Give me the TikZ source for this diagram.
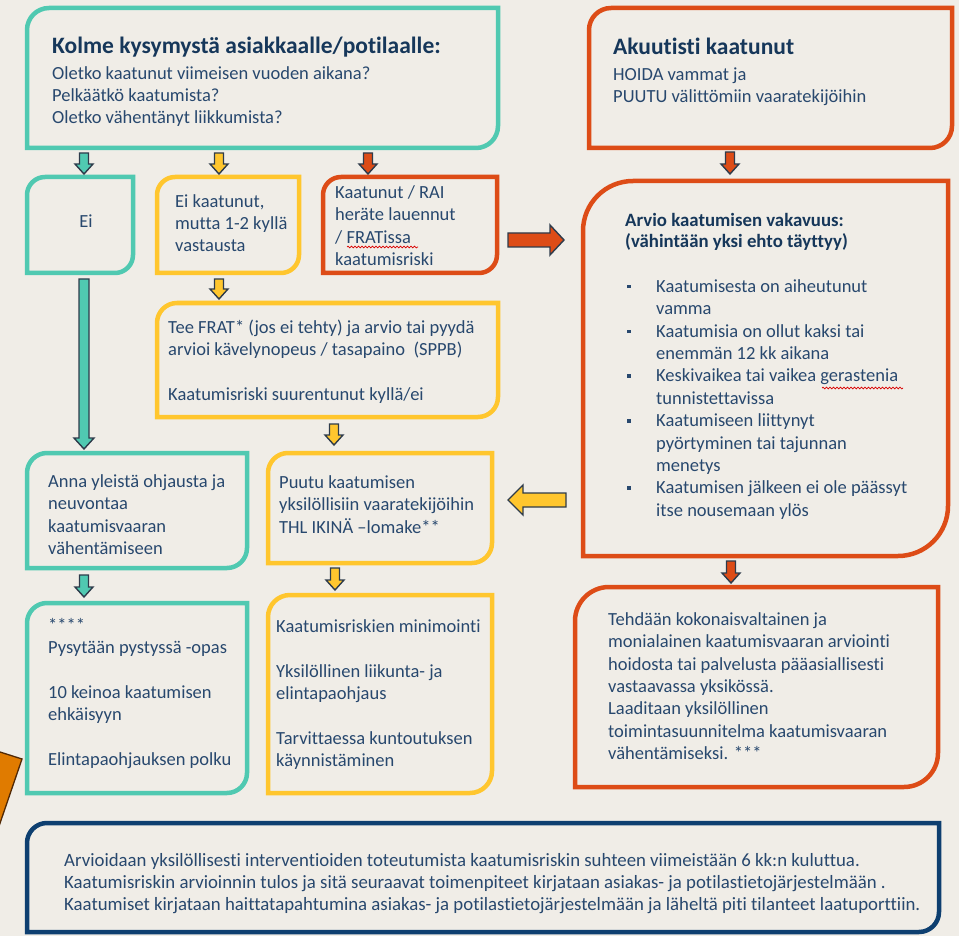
\documentclass[tikz,border=0pt]{standalone}
\usepackage{fontspec}
\setmainfont{Carlito}[Ligatures=NoCommon]
\usetikzlibrary{calc,decorations.pathmorphing}
\definecolor{bgc}{RGB}{240,237,231}
\definecolor{tealc}{RGB}{80,201,177}
\definecolor{yellc}{RGB}{255,198,46}
\definecolor{redc}{RGB}{221,76,23}
\definecolor{navyc}{RGB}{14,63,112}
\definecolor{bodyc}{RGB}{40,72,110}
\definecolor{titlec}{RGB}{22,55,90}
\definecolor{edgec}{RGB}{46,59,75}
\definecolor{orangec}{RGB}{224,123,0}
\definecolor{brownc}{RGB}{80,40,5}
\newcommand\rbox[7]{%
  \node[boxnode, minimum width={(#4-#2)*1pt}, minimum height={(#5-#3)*1pt}] (#1) at ({(#2+#4)/2},{-(#3+#5)/2}) {};
  \draw[boxline, draw=#7] (#1.south west) -- ([yshift=-#6pt]#1.north west) arc[start angle=180, end angle=90, radius=#6pt] -- (#1.north east) -- ([yshift=#6pt]#1.south east) arc[start angle=0, end angle=-90, radius=#6pt] -- cycle;}
\tikzset{
  boxnode/.style={inner sep=0pt, outer sep=0pt, draw=none},
  boxline/.style={line width=4.5pt},
  body/.style={anchor=north west, yshift=15.68pt, align=left, inner sep=0pt, text=bodyc, font=\fontsize{18.5}{22.4}\selectfont},
  bodysm/.style={anchor=north west, yshift=15.4pt, align=left, inner sep=0pt, text=bodyc, font=\fontsize{18.8}{22}\selectfont},
  ttl/.style={anchor=base west, inner sep=0pt, text=titlec, font=\bfseries\fontsize{23.5}{27}\selectfont},
  subttl/.style={anchor=north west, yshift=14.7pt, align=left, inner sep=0pt, text=titlec, font=\bfseries\fontsize{18.8}{21}\selectfont},
  arrowedge/.style={draw=edgec, line width=1.4pt, line join=miter},
  barrow/.style n args={3}{to path={let \p1=(\tikztostart), \p2=(\tikztotarget), \n1={atan2(\y2-\y1,\x2-\x1)}, \n2={veclen(\x2-\x1,\y2-\y1)} in ($(\p1)+(\n1+90:#1)$) -- ($(\p1)+(\n1:\n2-#3)+(\n1+90:#1)$) -- ($(\p1)+(\n1:\n2-#3)+(\n1+90:#2)$) -- (\p2) -- ($(\p1)+(\n1:\n2-#3)+(\n1-90:#2)$) -- ($(\p1)+(\n1:\n2-#3)+(\n1-90:#1)$) -- ($(\p1)+(\n1-90:#1)$) -- cycle}},
  squig/.style={draw=red!85!black, line width=0.7pt, decorate, decoration={snake, amplitude=0.9pt, segment length=3.5pt}},
}
\begin{document}
\begin{tikzpicture}[x=1pt,y=1pt]
\fill[bgc] (0,0) rectangle (959,-936);
\useasboundingbox (0,0) rectangle (959,-936);

% orange sliver at left edge
\filldraw[fill=orangec, draw=brownc, line width=1.3pt] (-10,-748.8) -- (22,-759) -- (-3,-832) -- cycle;

% boxes
\rbox{q}{27}{8}{498}{148}{22}{tealc}
\rbox{ak}{589}{8}{952}{148}{22}{redc}
\rbox{ei}{27}{177}{133}{273}{18}{tealc}
\rbox{ye}{157}{177}{299}{273}{18}{yellc}
\rbox{rd}{323}{177}{497}{273}{18}{redc}
\rbox{frat}{157}{303}{498}{417}{20}{yellc}
\rbox{anna}{27}{453}{247}{568}{20}{tealc}
\rbox{puutu}{268}{453}{492}{563}{20}{yellc}
\rbox{arvio}{583}{181}{948}{556}{50}{redc}
\rbox{star}{27}{603}{247}{793}{20}{tealc}
\rbox{kaat}{268}{595}{492}{793}{22}{yellc}
\rbox{tehd}{575}{587}{938}{787}{34}{redc}
\rbox{bot}{27}{823}{939}{932}{20}{navyc}

% texts
\node[ttl] (qt) at (52,-54) {Kolme kysymystä asiakkaalle/potilaalle:};
\node[body] (qb) at (52,-79) {\strut Oletko kaatunut viimeisen vuoden aikana?\\Pelkäätkö kaatumista?\\Oletko vähentänyt liikkumista?};
\node[ttl] (akt) at (613,-55) {Akuutisti kaatunut};
\node[body] (akb) at (613,-80) {\strut HOIDA vammat ja\\PUUTU välittömiin vaaratekijöihin};
\node[anchor=base, inner sep=0pt, text=bodyc, font=\fontsize{18.5}{22.4}\selectfont] (eit) at (86,-228) {Ei};
\node[body] (yet) at (175,-207) {\strut Ei kaatunut,\\mutta 1-2 kyllä\\vastausta};
\node[body] (rdt) at (335,-198) {\strut Kaatunut / RAI\\heräte lauennut\\/ FRATissa\\kaatumisriski};
\node[body] (fratt) at (168,-333) {\strut Tee FRAT* (jos ei tehty) ja arvio tai pyydä\\arvioi kävelynopeus / tasapaino\ \ (SPPB)\\[22.4pt]Kaatumisriski suurentunut kyllä/ei};
\node[body] (annat) at (48,-487) {\strut Anna yleistä ohjausta ja\\neuvontaa\\kaatumisvaaran\\vähentämiseen};
\node[body] (puutut) at (279,-488) {\strut Puutu kaatumisen\\yksilöllisiin vaaratekijöihin\\THL IKINÄ –lomake**};
\node[subttl] (arviot) at (625,-226) {\strut Arvio kaatumisen vakavuus:\\(vähintään yksi ehto täyttyy)};
\newcommand\bul{\makebox[29pt][l]{\rule[4pt]{3.5pt}{3.5pt}}}
\newcommand\nobul{\hspace*{29pt}}
\node[body] (arviob) at (627,-292) {\strut\bul Kaatumisesta on aiheutunut\\\nobul vamma\\\bul Kaatumisia on ollut kaksi tai\\\nobul enemmän 12 kk aikana\\\bul Keskivaikea tai vaikea gerastenia\\\nobul tunnistettavissa\\\bul Kaatumiseen liittynyt\\\nobul pyörtyminen tai tajunnan\\\nobul menetys\\\bul Kaatumisen jälkeen ei ole päässyt\\\nobul itse nousemaan ylös};
\node[body] (start) at (48,-631) {\strut ****\\Pysytään pystyssä -opas\\[22.4pt]10 keinoa kaatumisen\\ehkäisyyn\\[22.4pt]Elintapaohjauksen polku};
\node[body] (kaatt) at (276,-632) {\strut Kaatumisriskien minimointi\\[22.4pt]Yksilöllinen liikunta- ja\\elintapaohjaus\\[22.4pt]Tarvittaessa kuntoutuksen\\käynnistäminen};
\node[body] (tehdt) at (608,-625) {\strut Tehdään kokonaisvaltainen ja\\monialainen kaatumisvaaran arviointi\\hoidosta tai palvelusta pääasiallisesti\\vastaavassa yksikössä.\\Laaditaan yksilöllinen\\toimintasuunnitelma kaatumisvaaran\\vähentämiseksi. ***};
\node[bodysm] (bott) at (64,-866) {\strut Arvioidaan yksilöllisesti interventioiden toteutumista kaatumisriskin suhteen viimeistään 6 kk:n kuluttua.\\Kaatumisriskin arvioinnin tulos ja sitä seuraavat toimenpiteet kirjataan asiakas- ja potilastietojärjestelmään .\\Kaatumiset kirjataan haittatapahtumina asiakas- ja potilastietojärjestelmään ja läheltä piti tilanteet laatuporttiin.};

% spell-check squiggles
\draw[squig] (347,-247) -- (418,-247);
\draw[squig] (822,-388) -- (903,-388);

% arrow end points
\coordinate (a1s) at (84,-153);  \coordinate (a1e) at (84,-174);
\coordinate (a2s) at (219,-153); \coordinate (a2e) at (219,-174);
\coordinate (a3s) at (368,-153); \coordinate (a3e) at (368,-174);
\coordinate (a4s) at (730,-152); \coordinate (a4e) at (730,-174);
\coordinate (a5s) at (84,-279);  \coordinate (a5e) at (84,-449);
\coordinate (a6s) at (219,-279); \coordinate (a6e) at (219,-299);
\coordinate (a7s) at (334,-424); \coordinate (a7e) at (334,-445);
\coordinate (a8s) at (84,-575);  \coordinate (a8e) at (84,-597);
\coordinate (a9s) at (335,-568); \coordinate (a9e) at (335,-590);
\coordinate (a10s) at (731,-561); \coordinate (a10e) at (731,-583);
\coordinate (a11s) at (508,-240); \coordinate (a11e) at (564,-240);
\coordinate (a12s) at (566,-500); \coordinate (a12e) at (508,-500);

\draw[arrowedge, fill=tealc] (a1s) to[barrow={4.5}{9}{10}] (a1e);
\draw[arrowedge, fill=yellc] (a2s) to[barrow={4.5}{9}{10}] (a2e);
\draw[arrowedge, fill=redc] (a3s) to[barrow={4.5}{9}{10}] (a3e);
\draw[arrowedge, fill=redc] (a4s) to[barrow={4.5}{9}{10}] (a4e);
\draw[arrowedge, fill=tealc] (a5s) to[barrow={5}{10}{11}] (a5e);
\draw[arrowedge, fill=yellc] (a6s) to[barrow={4.5}{9}{10}] (a6e);
\draw[arrowedge, fill=yellc] (a7s) to[barrow={4.5}{9}{10}] (a7e);
\draw[arrowedge, fill=tealc] (a8s) to[barrow={4.5}{9}{10}] (a8e);
\draw[arrowedge, fill=yellc] (a9s) to[barrow={4.5}{9}{10}] (a9e);
\draw[arrowedge, fill=redc] (a10s) to[barrow={4.5}{9}{10}] (a10e);
\draw[arrowedge, fill=redc] (a11s) to[barrow={7}{15}{14}] (a11e);
\draw[arrowedge, fill=yellc] (a12s) to[barrow={7}{15}{15}] (a12e);
\end{tikzpicture}
\end{document}
